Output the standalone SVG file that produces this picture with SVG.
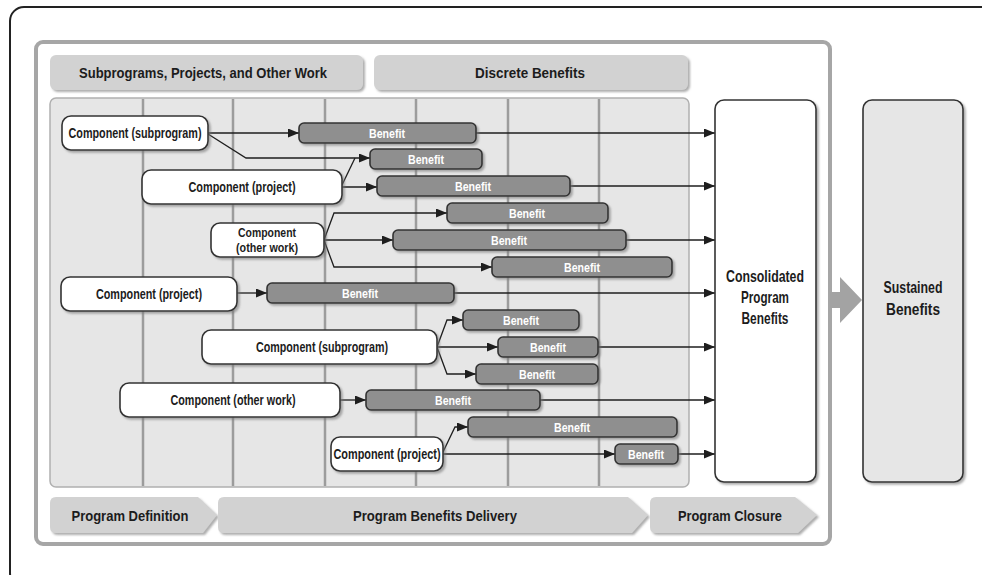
<svg xmlns="http://www.w3.org/2000/svg" width="982" height="575" viewBox="0 0 982 575">
  <defs>
    <marker id="arrow" markerUnits="userSpaceOnUse" markerWidth="11" markerHeight="9" refX="11" refY="4.5" orient="auto">
      <path d="M0,0 L11,4.5 L0,9 Z" fill="#1e1e1e"/>
    </marker>
    <filter id="shadow" x="-5%" y="-5%" width="115%" height="130%">
      <feDropShadow dx="2" dy="2" stdDeviation="0.8" flood-color="#777" flood-opacity="0.6"/>
    </filter>
    <style>
      text { font-family: "Liberation Sans", Arial, sans-serif; font-weight: bold; text-anchor: middle; }
      .hdr { fill: #d2d2d2; filter: url(#shadow); }
      .hdr-t { font-size: 15.5px; fill: #1c1c1c; }
      .phase { fill: #d2d2d2; filter: url(#shadow); }
      .comp { fill: #fff; stroke: #333; stroke-width: 1.6; filter: url(#shadow); }
      .comp-t { font-size: 14px; fill: #1c1c1c; }
      .comp-t2 { font-size: 13px; fill: #1c1c1c; }
      .ben { fill: #8f8f8f; stroke: #333; stroke-width: 1.6; filter: url(#shadow); }
      .ben-t { font-size: 13px; fill: #fff; }
      .big { stroke: #333; stroke-width: 1.6; filter: url(#shadow); }
      .big-t { font-size: 16.5px; fill: #1c1c1c; }
      .lane { stroke: #9c9c9c; stroke-width: 2.5; }
      .conn path { fill: none; stroke: #1e1e1e; stroke-width: 1.3; }
      .conn .a { marker-end: url(#arrow); }
    </style>
  </defs>

  <!-- outer frame -->
  <rect x="10" y="7" width="1000" height="580" rx="14" fill="#fff" stroke="#222" stroke-width="2"/>

  <!-- program container -->
  <rect x="36" y="42" width="794" height="502" rx="7" fill="#fff" stroke="#a6a6a6" stroke-width="4"/>

  <!-- column headers -->
  <g id="hdr-components">
    <rect class="hdr" x="50" y="55" width="313" height="35" rx="6"/>
    <text class="hdr-t" x="203" y="78" textLength="248" lengthAdjust="spacingAndGlyphs">Subprograms, Projects, and Other Work</text>
  </g>
  <g id="hdr-benefits">
    <rect class="hdr" x="374" y="55" width="314" height="35" rx="6"/>
    <text class="hdr-t" x="530" y="78" textLength="110" lengthAdjust="spacingAndGlyphs">Discrete Benefits</text>
  </g>

  <!-- timeline grid -->
  <g id="grid">
    <rect x="50" y="98" width="639" height="389" rx="6" fill="#e6e6e6" stroke="#b0b0b0" stroke-width="1.5"/>
    <line class="lane" x1="143" y1="99" x2="143" y2="486"/>
    <line class="lane" x1="233" y1="99" x2="233" y2="486"/>
    <line class="lane" x1="325" y1="99" x2="325" y2="486"/>
    <line class="lane" x1="416" y1="99" x2="416" y2="486"/>
    <line class="lane" x1="508" y1="99" x2="508" y2="486"/>
    <line class="lane" x1="599" y1="99" x2="599" y2="486"/>
  </g>

  <!-- life-cycle phases -->
  <g id="phase-definition">
    <path class="phase" d="M56,497 H198 L217,515 L203,533 H56 Q50,533 50,527 V503 Q50,497 56,497 Z"/>
    <text class="hdr-t" x="130" y="520.5" textLength="117" lengthAdjust="spacingAndGlyphs">Program Definition</text>
  </g>
  <g id="phase-delivery">
    <path class="phase" d="M224,497 H628 L648,515 L632,533 H224 Q218,533 218,527 V503 Q218,497 224,497 Z"/>
    <text class="hdr-t" x="435" y="520.5" textLength="164" lengthAdjust="spacingAndGlyphs">Program Benefits Delivery</text>
  </g>
  <g id="phase-closure">
    <path class="phase" d="M656,497 H795 L817,515 L798,533 H656 Q650,533 650,527 V503 Q650,497 656,497 Z"/>
    <text class="hdr-t" x="730" y="520.5" textLength="104" lengthAdjust="spacingAndGlyphs">Program Closure</text>
  </g>

  <!-- connectors -->
  <g id="connectors" class="conn">
    <path class="a" d="M208,133 H299"/>
    <path class="a" d="M476,133 H715"/>
    <path class="a" d="M208,134 L246,158 H370"/>
    <path d="M342,185 L355,158"/>
    <path class="a" d="M342,187 H377"/>
    <path class="a" d="M570,186 H715"/>
    <path class="a" d="M324,240 L334,213 H447"/>
    <path class="a" d="M324,240 H393"/>
    <path class="a" d="M626,240 H715"/>
    <path class="a" d="M324,240 L334,267 H492"/>
    <path class="a" d="M237,293 H267"/>
    <path class="a" d="M454,293 H715"/>
    <path class="a" d="M437,347 L447,320 H463"/>
    <path class="a" d="M437,347 H498"/>
    <path class="a" d="M598,347 H715"/>
    <path class="a" d="M437,347 L447,374 H476"/>
    <path class="a" d="M340,400 H366"/>
    <path class="a" d="M540,400 H715"/>
    <path class="a" d="M443,452 L455,427 H468"/>
    <path class="a" d="M443,454 H615"/>
    <path class="a" d="M678,454 H715"/>
  </g>

  <!-- components -->
  <g id="comp-subprogram-1">
    <rect class="comp" x="62" y="116" width="146" height="34" rx="9"/>
    <text class="comp-t" x="135" y="138" textLength="133" lengthAdjust="spacingAndGlyphs">Component (subprogram)</text>
  </g>
  <g id="comp-project-1">
    <rect class="comp" x="142" y="170" width="200" height="34" rx="9"/>
    <text class="comp-t" x="242" y="192" textLength="107" lengthAdjust="spacingAndGlyphs">Component (project)</text>
  </g>
  <g id="comp-otherwork-1">
    <rect class="comp" x="211" y="223" width="113" height="34" rx="9"/>
    <text class="comp-t2" x="267" y="237" textLength="58" lengthAdjust="spacingAndGlyphs">Component</text>
    <text class="comp-t2" x="267" y="252" textLength="62" lengthAdjust="spacingAndGlyphs">(other work)</text>
  </g>
  <g id="comp-project-2">
    <rect class="comp" x="61" y="277" width="176" height="34" rx="9"/>
    <text class="comp-t" x="149" y="299" textLength="106" lengthAdjust="spacingAndGlyphs">Component (project)</text>
  </g>
  <g id="comp-subprogram-2">
    <rect class="comp" x="202" y="330" width="235" height="34" rx="9"/>
    <text class="comp-t" x="322" y="352" textLength="132" lengthAdjust="spacingAndGlyphs">Component (subprogram)</text>
  </g>
  <g id="comp-otherwork-2">
    <rect class="comp" x="120" y="383" width="220" height="34" rx="9"/>
    <text class="comp-t" x="233" y="405" textLength="125" lengthAdjust="spacingAndGlyphs">Component (other work)</text>
  </g>
  <g id="comp-project-3">
    <rect class="comp" x="331" y="437" width="112" height="34" rx="9"/>
    <text class="comp-t" x="387" y="459" textLength="107" lengthAdjust="spacingAndGlyphs">Component (project)</text>
  </g>

  <!-- discrete benefits -->
  <g id="ben-1"><rect class="ben" x="299" y="123" width="177" height="20" rx="5"/><text class="ben-t" x="387" y="137.5" textLength="36" lengthAdjust="spacingAndGlyphs">Benefit</text></g>
  <g id="ben-2"><rect class="ben" x="370" y="149" width="112" height="20" rx="5"/><text class="ben-t" x="426" y="163.5" textLength="36" lengthAdjust="spacingAndGlyphs">Benefit</text></g>
  <g id="ben-3"><rect class="ben" x="377" y="176" width="193" height="20" rx="5"/><text class="ben-t" x="473" y="190.5" textLength="36" lengthAdjust="spacingAndGlyphs">Benefit</text></g>
  <g id="ben-4"><rect class="ben" x="447" y="203" width="161" height="20" rx="5"/><text class="ben-t" x="527" y="217.5" textLength="36" lengthAdjust="spacingAndGlyphs">Benefit</text></g>
  <g id="ben-5"><rect class="ben" x="393" y="230" width="233" height="20" rx="5"/><text class="ben-t" x="509" y="244.5" textLength="36" lengthAdjust="spacingAndGlyphs">Benefit</text></g>
  <g id="ben-6"><rect class="ben" x="492" y="257" width="180" height="20" rx="5"/><text class="ben-t" x="582" y="271.5" textLength="36" lengthAdjust="spacingAndGlyphs">Benefit</text></g>
  <g id="ben-7"><rect class="ben" x="267" y="283" width="187" height="20" rx="5"/><text class="ben-t" x="360" y="297.5" textLength="36" lengthAdjust="spacingAndGlyphs">Benefit</text></g>
  <g id="ben-8"><rect class="ben" x="463" y="310" width="116" height="20" rx="5"/><text class="ben-t" x="521" y="324.5" textLength="36" lengthAdjust="spacingAndGlyphs">Benefit</text></g>
  <g id="ben-9"><rect class="ben" x="498" y="337" width="100" height="20" rx="5"/><text class="ben-t" x="548" y="351.5" textLength="36" lengthAdjust="spacingAndGlyphs">Benefit</text></g>
  <g id="ben-10"><rect class="ben" x="476" y="364" width="122" height="20" rx="5"/><text class="ben-t" x="537" y="378.5" textLength="36" lengthAdjust="spacingAndGlyphs">Benefit</text></g>
  <g id="ben-11"><rect class="ben" x="366" y="390" width="174" height="20" rx="5"/><text class="ben-t" x="453" y="404.5" textLength="36" lengthAdjust="spacingAndGlyphs">Benefit</text></g>
  <g id="ben-12"><rect class="ben" x="468" y="417" width="209" height="20" rx="5"/><text class="ben-t" x="572" y="431.5" textLength="36" lengthAdjust="spacingAndGlyphs">Benefit</text></g>
  <g id="ben-13"><rect class="ben" x="615" y="444" width="63" height="20" rx="5"/><text class="ben-t" x="646" y="458.5" textLength="36" lengthAdjust="spacingAndGlyphs">Benefit</text></g>

  <!-- consolidated program benefits -->
  <g id="consolidated">
    <rect class="big" x="715" y="100" width="101" height="382" rx="9" fill="#fff"/>
    <text class="big-t" x="765" y="282" textLength="78" lengthAdjust="spacingAndGlyphs">Consolidated</text>
    <text class="big-t" x="765" y="303" textLength="48" lengthAdjust="spacingAndGlyphs">Program</text>
    <text class="big-t" x="765" y="324" textLength="47" lengthAdjust="spacingAndGlyphs">Benefits</text>
  </g>

  <!-- transition arrow -->
  <g id="transition">
    <path d="M830,292 H840 V277 L862,300 L840,323 V308 H830 Z" fill="#a3a3a3"/>
  </g>

  <!-- sustained benefits -->
  <g id="sustained">
    <rect class="big" x="863" y="100" width="100" height="382" rx="9" fill="#e6e6e6"/>
    <text class="big-t" x="913" y="293" textLength="59" lengthAdjust="spacingAndGlyphs">Sustained</text>
    <text class="big-t" x="913" y="315" textLength="54" lengthAdjust="spacingAndGlyphs">Benefits</text>
  </g>
</svg>
